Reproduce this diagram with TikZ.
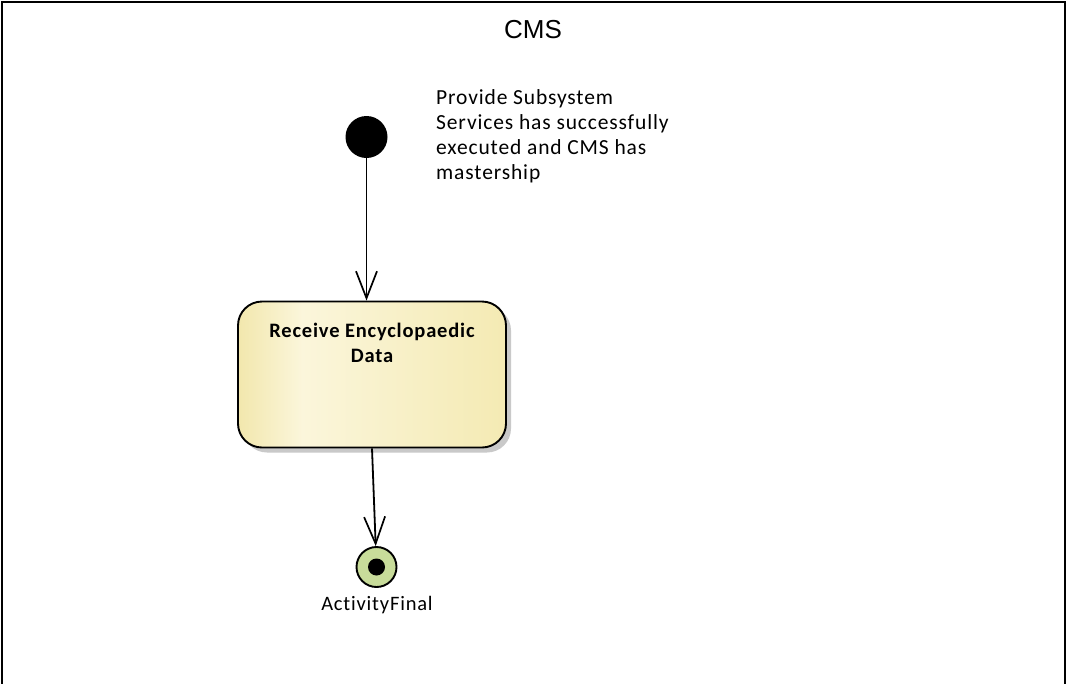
\documentclass[tikz,border=0pt]{standalone}
\usepackage{fontspec}
\newfontfamily\eafont{Carlito}[LetterSpace=4,Ligatures=NoCommon]
\newfontfamily\arialf{Liberation Sans}
\usetikzlibrary{arrows.meta,shadows}
\definecolor{boxl}{HTML}{F2E7AD}
\definecolor{boxm}{HTML}{FBF6DB}
\definecolor{boxr}{HTML}{F4EAB3}
\definecolor{finalgreen}{HTML}{C8DC9A}
\definecolor{shadowgray}{HTML}{C9C9C9}
\pgfdeclarehorizontalshading{actshade}{100bp}{color(0bp)=(boxl); color(25bp)=(boxl); color(37bp)=(boxm); color(75bp)=(boxr); color(100bp)=(boxr)}
\begin{document}
\begin{tikzpicture}[x=1pt,y=-1pt,
  frame/.style={line width=2.2pt, draw=black},
  initialnode/.style={circle, fill=black, minimum size=42pt, inner sep=0pt},
  actionnode/.style={rectangle, rounded corners=24pt, draw=black, line width=1.9pt,
    shading=actshade, minimum width=268pt, minimum height=146pt, inner sep=0pt,
    drop shadow={shadow xshift=5pt, shadow yshift=-5pt, fill=shadowgray, opacity=1}},
  finalnode/.style={circle, draw=black, line width=1.9pt, fill=finalgreen, minimum size=40pt, inner sep=0pt,
    path picture={\fill[black] (path picture bounding box.center) circle (8.5pt);}},
  flow/.style={line width=1.8pt, -{Straight Barb[length=27pt, width=21pt, line width=1.7pt]}},
  eatext/.style={font=\eafont\fontsize{21.5}{25}\selectfont, inner sep=0pt},
  eabold/.style={font=\eafont\bfseries\fontsize{20.5}{25}\selectfont, inner sep=0pt}
]
\useasboundingbox (0,0) rectangle (1067,683);
\clip (0,0) rectangle (1067,683);
\fill[white] (0,0) rectangle (1067,683);
\draw[frame] (2,720) -- (2,2) -- (1065,2) -- (1065,720);

\node[anchor=base, font=\arialf\fontsize{26}{30}\selectfont, inner sep=0pt] (title) at (533,38) {CMS};

\node[initialnode] (start) at (366.5,137) {};
\node[eatext, anchor=base west, align=left] (note) at (436,179)
  {Provide Subsystem\\Services has successfully\\executed and CMS has\\mastership};

\node[actionnode] (act) at (372,374.5) {};
\node[eabold, anchor=base, align=center] (acttext) at (372,362) {Receive Encyclopaedic\\Data};

\node[finalnode] (final) at (376.5,567) {};
\node[eatext, font=\eafont\fontsize{20.5}{25}\selectfont, anchor=base] (finallabel) at (377,610) {ActivityFinal};

\draw[flow] (start) -- (start |- act.north);
\draw[flow] (act.south) -- (final);
\end{tikzpicture}
\end{document}
